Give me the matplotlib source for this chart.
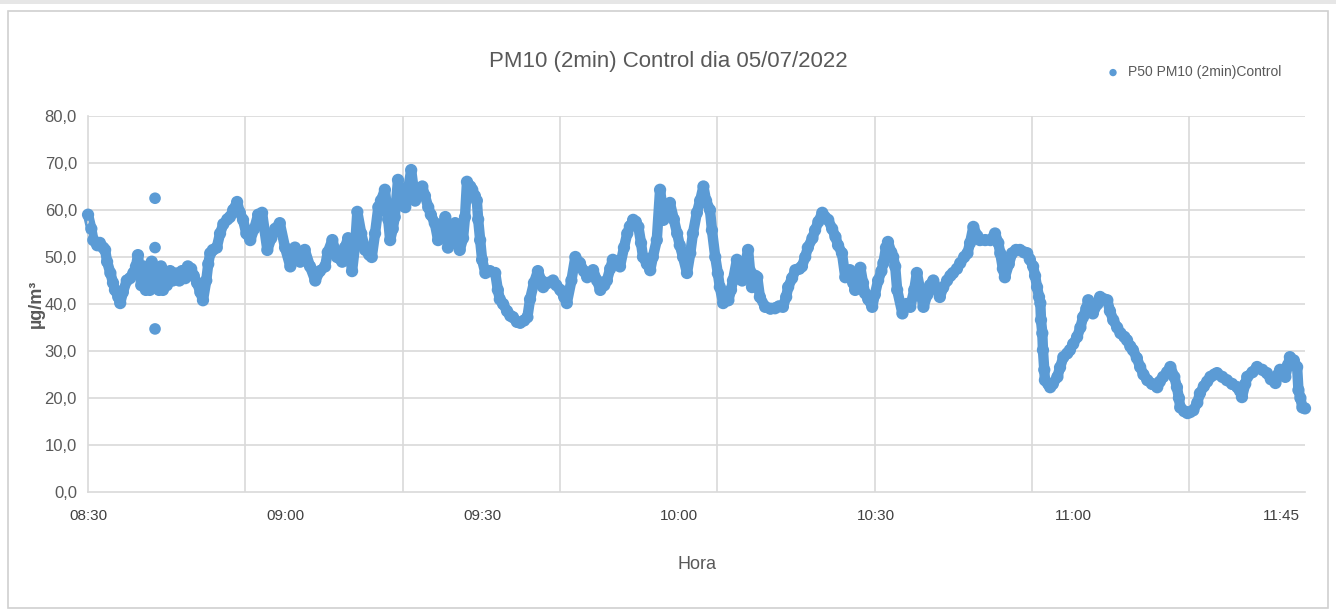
import matplotlib
matplotlib.use("Agg")
import matplotlib.pyplot as plt
import numpy as np
from matplotlib.patches import Rectangle

# ---- data (minutes after 08:30, PM10 µg/m3) ----
t_min = [
    0.0, 0.5, 0.8, 1.4, 1.8, 2.3, 2.6, 2.9, 3.4, 3.8,
    4.1, 4.6, 4.9, 5.3, 5.9, 6.4, 6.9, 7.3, 7.6, 8.1,
    8.4, 8.8, 9.1, 9.4, 9.7, 10.2, 10.5, 10.8, 11.1, 11.4,
    11.7, 12.0, 12.5, 12.9, 13.4, 13.9, 14.3, 14.8, 15.2, 15.7,
    16.1, 16.6, 17.1, 17.5, 18.0, 18.3, 18.6, 19.0, 19.6, 20.1,
    20.6, 21.2, 21.6, 22.1, 22.7, 23.1, 23.6, 24.1, 24.7, 25.3,
    25.9, 26.5, 27.3, 27.9, 28.5, 29.2, 30.0, 30.8,
    31.5, 32.3, 33.0, 33.8, 34.6, 35.3, 36.1, 36.5, 37.2, 37.9,
    38.7, 39.1, 39.6, 40.2, 40.7, 41.0, 41.6, 42.2, 42.8, 43.2,
    43.7, 44.2, 44.6, 45.2, 45.7, 46.0, 46.4, 46.7, 47.2, 47.8,
    48.3, 48.7, 49.2, 49.8, 50.3, 50.9, 51.3, 51.8, 52.2, 52.8,
    53.3, 53.8, 54.4, 54.8, 55.3, 55.9, 56.3, 56.6, 57.1, 57.4,
    57.7, 58.2, 58.5, 58.9, 59.2, 59.4, 59.7, 60.0, 60.5, 61.2,
    62.0, 62.4, 62.7,
    63.2, 63.8, 64.3, 64.7, 65.3, 65.8, 66.4, 66.9, 67.3, 67.9,
    68.5, 69.0, 69.3, 70.0, 70.8, 71.3, 71.9, 72.5, 72.9, 73.6,
    74.2, 74.6, 74.9, 75.5, 76.0, 76.4, 76.9, 77.5, 78.0, 78.6,
    79.0, 79.5, 79.9, 80.6, 81.0, 81.6, 82.1, 82.5, 83.0, 83.4,
    83.8, 84.2, 84.5, 85.1, 85.6, 86.0, 86.6, 87.1, 87.4, 87.6,
    88.2, 88.6, 89.2, 89.7, 90.1, 90.6, 91.2, 91.7, 92.1, 92.7,
    93.2, 93.7,
    94.1, 94.7, 95.0, 95.5, 95.9, 96.2, 96.7, 97.5, 97.9, 98.2,
    98.8, 99.3, 99.6, 100.0, 100.5, 100.8, 101.1, 101.6, 101.9, 102.3,
    103.1, 103.9, 104.6, 105.2, 105.8, 106.3, 106.6, 107.2, 107.7, 108.3,
    108.7, 109.2, 109.6, 110.3, 110.7, 111.2, 111.8, 112.2, 112.7, 113.3,
    113.8, 114.2, 114.8, 115.3, 115.6, 116.0, 116.5, 116.8, 117.3, 117.6,
    118.0, 118.3, 118.8, 119.4, 119.8, 120.3, 120.8, 121.1, 121.5, 121.8,
    122.3, 122.6, 122.9, 123.2,
    124.0, 124.6, 125.2, 125.8, 126.2, 126.7, 127.2, 127.8, 128.2, 128.7,
    129.3, 129.7, 130.2, 130.8, 131.3, 131.7, 132.3, 132.8, 133.4, 133.9,
    134.3, 134.8, 135.4, 135.8, 136.6, 137.4, 138.1, 138.6, 138.9, 139.3,
    139.6, 140.2, 140.7, 141.3, 141.9, 142.5, 143.0, 143.4, 143.9, 144.2,
    144.5, 144.8, 145.0, 145.1, 145.3, 145.4, 145.6, 145.7, 146.2, 146.5,
    146.9, 147.6, 148.0, 148.5, 149.1, 149.5, 150.0, 150.6, 151.1, 151.5,
    152.0, 152.3, 152.7, 153.0, 153.7, 154.1, 154.7, 155.2, 155.6, 156.1,
    156.7, 157.2, 157.8, 158.2, 158.7, 159.1, 159.7, 160.2, 160.7, 161.3,
    162.0, 162.8, 163.2, 163.7, 164.3, 164.8, 165.4, 165.8, 166.1, 166.3,
    166.9, 167.4, 167.8, 168.3, 168.9, 169.3, 169.9, 170.4, 170.9, 171.5,
    171.9, 172.7, 173.4, 174.2, 175.0, 175.4, 175.7, 176.2, 176.5, 177.3,
    178.0, 178.8, 179.5, 180.1, 180.8, 181.2, 181.5, 182.0, 182.3, 182.7,
    183.0, 183.6, 184.1, 184.3, 184.6, 184.9, 185.3,
]
pm10 = [
    59, 56, 53.6, 52.5, 53, 52, 51.5, 49, 46.6, 44.5,
    43, 41.5, 40.2, 42.5, 45, 45.5, 46.6, 48, 50.4, 44,
    48, 43, 47, 43, 49, 44, 47, 43, 48, 43,
    46, 44, 47, 45, 46.5, 45, 47, 45.5, 48, 47.5,
    46, 44.5, 42.5, 40.8, 45, 48.5, 50.8, 51.5, 52, 55,
    57, 58, 58.5, 60, 61.7, 59.5, 57.9, 55, 53.6, 56,
    59, 59.4, 51.5, 54, 56, 57.2, 52, 48,
    52, 49, 51.5, 48, 45, 47, 48, 51, 53.6, 50,
    49, 52, 54, 47, 53, 59.6, 55, 51.5, 50.5, 50,
    55, 60.6, 62, 64.3, 58, 53.6, 56, 58.5, 66.4, 61,
    60.6, 64, 68.5, 62, 64, 65, 63, 60.6, 59, 57.2,
    53.6, 56, 58.5, 52, 55, 57.2, 54, 51.5, 54, 58.5,
    66, 65, 64.3, 63, 62, 58, 53.6, 49.4, 46.6, 47,
    46.6, 43, 41,
    40, 38.5, 37.5, 37.2, 36.2, 36, 36.5, 37.2, 41, 44.5,
    47, 45, 43.6, 44.5, 45, 44, 43, 41.5, 40.2, 45,
    50, 49, 48.7, 47, 45.7, 46, 47.2, 45, 43, 44,
    45, 47.5, 49.4, 49, 48, 52, 55, 56.5, 57.9, 57.5,
    56.4, 53, 50, 48.5, 47.2, 50, 53.6, 64.3, 61, 57.9,
    60, 61.5, 58, 55, 52.5, 50, 46.6, 50.8, 55, 59.4,
    62, 65,
    62, 60, 55.7, 50, 46.5, 43.6, 40.2, 40.8, 43, 45,
    49.4, 47, 45, 48, 51.5, 47, 43.6, 46, 45.7, 41.5,
    39.4, 39, 39.1, 39.5, 39.4, 41.5, 43.6, 45.5, 47.2, 47.5,
    48, 50, 52, 54, 55.7, 57.5, 59.4, 58.5, 57.9, 56,
    54.3, 52.5, 50.8, 45.7, 47, 47.2, 44.5, 43, 46, 47.7,
    44.5, 42.3, 41, 39.4, 42, 45, 47, 48.7, 52, 53.2,
    51, 50, 48, 43,
    38, 40, 39.4, 43, 46.6, 43, 39.4, 42, 44, 45,
    43, 41.5, 43.5, 45, 46, 46.6, 47.5, 48.7, 50, 50.8,
    53, 56.4, 54.5, 53.6, 53.6, 53.6, 55, 53, 50.8, 47.5,
    45.7, 48.5, 50.8, 51.5, 51.5, 51, 50.8, 49.5, 48, 46,
    43.6, 41.5, 40.2, 36.6, 33.8, 30.2, 26, 23.8, 23, 22.3,
    23, 24.5, 26.5, 28.7, 29.5, 30.2, 31.5, 33, 35, 37.2,
    39, 40.8, 39, 38, 40, 41.5, 41, 40.8, 38.5, 36.6,
    35, 33.8, 33, 32.3, 31, 30.2, 28.5, 26.6, 25, 23.8,
    23, 22.3, 23.5, 24.5, 25.5, 26.6, 24.5, 22.3, 20, 18,
    17.2, 16.8, 17, 17.4, 19, 21, 22.5, 23.5, 24.5, 25,
    25.3, 24.5, 23.8, 23, 22.3, 21.5, 20.2, 23, 24.5, 25.5,
    26.6, 26, 25.3, 24, 23.2, 25, 26, 25, 24.5, 27,
    28.7, 28, 26.6, 21.7, 20, 18, 17.8,
]
# isolated readings away from the main trace
spike_t = [10.2, 10.2, 10.2]
spike_v = [62.5, 52.0, 34.7]

tick_pos = [0, 30, 60, 90, 120, 150, 181.7]
tick_labels = ["08:30", "09:00", "09:30", "10:00", "10:30", "11:00", "11:45"]
y_ticks = [0, 10, 20, 30, 40, 50, 60, 70, 80]
series_name = "P50 PM10 (2min)Control"
title = "PM10 (2min) Control dia 05/07/2022"

FONT = ["Liberation Sans Narrow", "Liberation Sans", "DejaVu Sans"]
plt.rcParams["font.family"] = FONT

BLUE = "#5B9BD5"
GRID = "#D9D9D9"
TXT = "#595959"

fig = plt.figure(figsize=(13.36, 6.12), dpi=100)
fig.patches.append(Rectangle((0.006, 0.006), 0.988, 0.976, transform=fig.transFigure,
                             fill=False, edgecolor="#D0D0D0", linewidth=1.2))
fig.patches.append(Rectangle((0.0, 0.993), 1.0, 0.007, transform=fig.transFigure,
                             facecolor="#E6E6E6", edgecolor="none"))

ax = fig.add_axes([0.0659, 0.196, 0.9109, 0.6145])
ax.set_xlim(0, 185.3)
ax.set_ylim(0, 80)

# grid: horizontal every 10, vertical every ~24 min (as in source chart)
grid_step = 23.95
for k in range(1, 8):
    ax.axvline(k * grid_step, color=GRID, lw=1.2, zorder=0)
for yv in y_ticks[1:]:
    ax.axhline(yv, color=GRID, lw=1.2, zorder=0)

# dense sampling: markers overlap into a continuous band
ax.plot(t_min, pm10, color=BLUE, lw=7.5, solid_joinstyle="round",
        solid_capstyle="round", zorder=2, clip_on=False)
ax.scatter(t_min, pm10, s=78, color=BLUE, edgecolors="none", zorder=3,
           clip_on=False, label=series_name)
ax.scatter(spike_t, spike_v, s=70, color=BLUE, edgecolors="none", zorder=3,
           clip_on=False)

for s in ["top", "right"]:
    ax.spines[s].set_visible(False)
for s in ["left", "bottom"]:
    ax.spines[s].set_color(GRID)
    ax.spines[s].set_linewidth(1.2)

ax.set_yticks(y_ticks)
ax.set_yticklabels([f"{v:.1f}".replace(".", ",") for v in y_ticks],
                   fontsize=12, color=TXT)
ax.set_xticks(tick_pos)
ax.set_xticklabels(tick_labels, fontsize=11, color="#404040")
ax.tick_params(axis="both", length=0)
ax.tick_params(axis="x", pad=12)
ax.tick_params(axis="y", pad=8)

ax.set_ylabel("µg/m³", fontsize=13, color=TXT, fontweight="bold", labelpad=0)
ax.set_xlabel("Hora", fontsize=13, color=TXT, labelpad=24)

fig.text(0.5, 0.9, title, ha="center", va="center", fontsize=16, color=TXT)

leg = fig.legend(loc="center left", bbox_to_anchor=(0.8175, 0.882), frameon=False,
                 fontsize=10, handletextpad=0.05, markerscale=0.6, borderpad=0)
for txt in leg.get_texts():
    txt.set_color(TXT)

fig.savefig("out.png", dpi=100)
